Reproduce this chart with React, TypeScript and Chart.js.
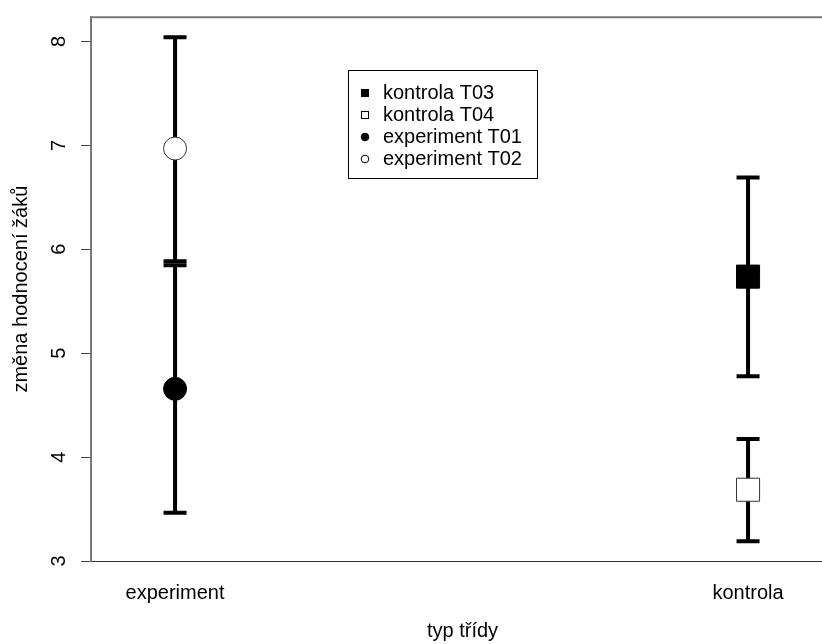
import React, { useEffect, useRef } from 'react';
import { Chart, registerables } from 'chart.js';

Chart.register(...registerables);

// ---- data ----
const groupLabels = ['experiment', 'kontrola'];
const groupPositions = [1, 2];
const seriesLabels = ['kontrola T03', 'kontrola T04', 'experiment T01', 'experiment T02'];
const seriesGroup = [2, 2, 1, 1];
const seriesMean = [5.737, 3.686, 4.657, 6.97];
const seriesLower = [4.778, 3.19, 3.465, 5.884];
const seriesUpper = [6.69, 4.175, 5.846, 8.041];
const yTicks = [3, 4, 5, 6, 7, 8];

// ---- styles ----
const seriesShape = ['rect', 'rect', 'circle', 'circle'];
const seriesFilled = [true, false, true, false];
const FONT = 'Liberation Sans, Arial, sans-serif';
const CANVAS_W = 860;
const CANVAS_H = 644;

const errorBarPlugin = {
  id: 'errorBars',
  beforeDatasetsDraw(chart: any) {
    const { ctx } = chart;
    const xs = chart.scales.x;
    const ys = chart.scales.y;
    ctx.save();
    ctx.strokeStyle = '#000';
    ctx.lineWidth = 4;
    ctx.lineCap = 'butt';
    const half = 11.5;
    for (let i = 0; i < seriesMean.length; i++) {
      const px = xs.getPixelForValue(seriesGroup[i]);
      const yl = ys.getPixelForValue(seriesLower[i]);
      const yu = ys.getPixelForValue(seriesUpper[i]);
      ctx.beginPath();
      ctx.moveTo(px, yl);
      ctx.lineTo(px, yu);
      ctx.moveTo(px - half, yl);
      ctx.lineTo(px + half, yl);
      ctx.moveTo(px - half, yu);
      ctx.lineTo(px + half, yu);
      ctx.stroke();
    }
    ctx.restore();
  },
};

const frameAndLegendPlugin = {
  id: 'frameAndLegend',
  afterDraw(chart: any) {
    const { ctx, chartArea } = chart;
    ctx.save();
    // top frame line
    ctx.strokeStyle = '#777';
    ctx.lineWidth = 2;
    ctx.beginPath();
    ctx.moveTo(chartArea.left, chartArea.top);
    ctx.lineTo(chartArea.right, chartArea.top);
    ctx.stroke();

    // legend box
    const bx = 348, by = 70, bw = 189, bh = 108;
    ctx.fillStyle = '#fff';
    ctx.fillRect(bx, by, bw, bh);
    ctx.strokeStyle = '#000';
    ctx.lineWidth = 1;
    ctx.strokeRect(bx + 0.5, by + 0.5, bw, bh);
    ctx.font = `20px ${FONT}`;
    ctx.textBaseline = 'middle';
    ctx.textAlign = 'left';
    const ds = chart.data.datasets;
    for (let i = 0; i < ds.length; i++) {
      const cy = 93 + i * 22;
      const mx = 365;
      ctx.lineWidth = 1;
      ctx.strokeStyle = '#000';
      ctx.fillStyle = seriesFilled[i] ? '#000' : '#fff';
      if (seriesShape[i] === 'rect') {
        ctx.fillRect(mx - 3.5, cy - 3.5, 7, 7);
        ctx.strokeRect(mx - 3.5, cy - 3.5, 7, 7);
      } else {
        ctx.beginPath();
        ctx.arc(mx, cy, 3.8, 0, Math.PI * 2);
        ctx.fill();
        ctx.stroke();
      }
      ctx.fillStyle = '#000';
      ctx.fillText(ds[i].label, 383, cy);
    }
    ctx.restore();
  },
};

export default function App() {
  const canvasRef = useRef<HTMLCanvasElement | null>(null);

  useEffect(() => {
    if (!canvasRef.current) return;
    const datasets = seriesLabels.map((label, i) => ({
      label,
      type: 'scatter' as const,
      data: [{ x: seriesGroup[i], y: seriesMean[i] }],
      pointStyle: seriesShape[i],
      pointRadius: seriesShape[i] === 'rect' ? 16.3 : 11.5,
      backgroundColor: seriesFilled[i] ? '#000' : '#fff',
      borderColor: seriesFilled[i] ? '#000' : '#333',
      borderWidth: 1,
    }));

    const chart = new Chart(canvasRef.current, {
      type: 'scatter',
      data: { datasets },
      plugins: [errorBarPlugin, frameAndLegendPlugin],
      options: {
        responsive: false,
        animation: false,
        layout: { padding: { top: 15, right: 26, left: 0, bottom: 0 } },
        plugins: { legend: { display: false }, tooltip: { enabled: false } },
        scales: {
          x: {
            type: 'linear',
            min: 0.8533,
            max: 2.15,
            afterBuildTicks: (s: any) => {
              s.ticks = groupPositions.map((v) => ({ value: v }));
            },
            afterFit: (s: any) => {
              s.height = 83;
              s.paddingLeft = 0;
              s.paddingRight = 0;
            },
            grid: { display: false, drawTicks: false },
            border: { display: true, color: '#333', width: 1 },
            ticks: {
              callback: (_v: any, idx: number) => groupLabels[idx],
              font: { family: FONT, size: 20 },
              color: '#000',
              padding: 20,
              autoSkip: false,
              maxRotation: 0,
            },
            title: {
              display: true,
              text: 'typ třídy',
              font: { family: FONT, size: 20 },
              color: '#000',
              padding: { top: 0, bottom: 1 },
            },
          },
          y: {
            type: 'linear',
            min: 3,
            max: 8.233,
            afterBuildTicks: (s: any) => {
              s.ticks = yTicks.map((v) => ({ value: v }));
            },
            afterFit: (s: any) => {
              s.width = 91;
              s.paddingTop = 0;
              s.paddingBottom = 0;
            },
            grid: { drawOnChartArea: false, drawTicks: true, tickLength: 10, color: '#444' },
            border: { display: true, color: '#777', width: 2 },
            ticks: {
              minRotation: 90,
              maxRotation: 90,
              crossAlign: 'center',
              padding: 16,
              font: { family: FONT, size: 20 },
              color: '#000',
              autoSkip: false,
              callback: (v: any) => String(v),
            },
            title: {
              display: true,
              text: 'změna hodnocení žáků',
              font: { family: FONT, size: 20 },
              color: '#000',
              padding: { top: 9, bottom: 0 },
            },
          },
        },
      } as any,
    });
    return () => chart.destroy();
  }, []);

  return (
    <div
      style={{
        position: 'fixed',
        left: 0,
        top: 0,
        width: '822px',
        height: '644px',
        overflow: 'hidden',
        background: '#fff',
      }}
    >
      <canvas
        ref={canvasRef}
        width={CANVAS_W}
        height={CANVAS_H}
        style={{ display: 'block', width: CANVAS_W + 'px', height: CANVAS_H + 'px' }}
      />
    </div>
  );
}
